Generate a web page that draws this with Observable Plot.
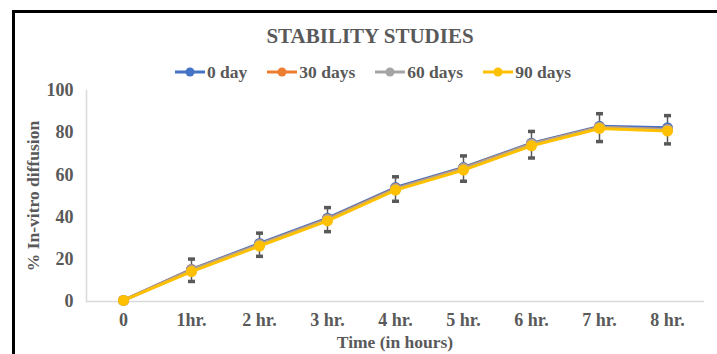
<!DOCTYPE html>
<html>
<head>
<meta charset="utf-8">
<script src="https://cdn.jsdelivr.net/npm/d3@7"></script>
<script src="https://cdn.jsdelivr.net/npm/@observablehq/plot@0.6"></script>
<style>
  body { margin: 0; background: #fff; }
  #wrap { position: relative; width: 717px; height: 354px; overflow: hidden; background: #fff;
    font-family: "Liberation Serif", "Times New Roman", serif; font-weight: bold; color: #595959; }
  #bleft { position: absolute; left: 12px; top: 10px; width: 3px; height: 344px; background: #000; z-index: 2; }
  #btop { position: absolute; left: 12px; top: 10px; width: 705px; height: 3px; background: #000; z-index: 2; }
  #title { position: absolute; left: 0; top: 24px; width: 740px; text-align: center; font-size: 21px; line-height: 24px; z-index: 2; }
  #legend { position: absolute; left: 0; top: 62px; width: 746px; display: flex; justify-content: center; gap: 20px; font-size: 17.5px; line-height: 20px; z-index: 2; }
  .item { display: flex; align-items: center; gap: 2px; }
  #chart { position: absolute; left: 0; top: 0; z-index: 1; }
</style>
</head>
<body>
<div id="wrap">
  <div id="chart"></div>
  <div id="bleft"></div>
  <div id="btop"></div>
  <div id="title">STABILITY STUDIES</div>
  <div id="legend"></div>
</div>
<script>
const hours = ["0", "1hr.", "2 hr.", "3 hr.", "4 hr.", "5 hr.", "6 hr.", "7 hr.", "8 hr."];
const day0  = [0.5, 15.2, 27.5, 39.5, 54.0, 63.5, 75.0, 83.0, 82.3];
const day30 = [0.5, 15.0, 27.0, 39.0, 53.5, 63.2, 74.7, 82.6, 81.5];
const day60 = [0.5, 14.8, 26.9, 38.8, 53.3, 63.0, 74.5, 82.5, 81.4];
const day90 = [0.5, 14.2, 26.3, 38.2, 52.8, 62.3, 73.8, 82.0, 80.8];
const errCenter = [null, 14.8, 26.9, 38.8, 53.3, 63.0, 74.3, 82.4, 81.4];
const errHalf   = [null, 5.3, 5.5, 5.7, 5.8, 6.0, 6.3, 6.6, 6.7];

const seriesNames = ["0 day", "30 days", "60 days", "90 days"];
const seriesValues = [day0, day30, day60, day90];
const colors = ["#4472C4", "#ED7D31", "#A5A5A5", "#FFC000"];

const rows = [];
seriesNames.forEach((s, i) => hours.forEach((h, j) => rows.push({series: s, t: h, v: seriesValues[i][j]})));
const errs = hours.map((h, j) => ({t: h, lo: errCenter[j] == null ? null : errCenter[j] - errHalf[j], hi: errCenter[j] == null ? null : errCenter[j] + errHalf[j]})).filter(d => d.lo != null);

// legend
const leg = document.getElementById("legend");
seriesNames.forEach((s, i) => {
  const it = document.createElement("div");
  it.className = "item";
  it.innerHTML = `<svg width="30" height="12"><line x1="0" y1="6" x2="30" y2="6" stroke="${colors[i]}" stroke-width="3"/><circle cx="15" cy="6" r="4.5" fill="${colors[i]}"/></svg><span>${s}</span>`;
  leg.appendChild(it);
});

const capSymbol = {draw(ctx) { ctx.rect(-3.5, -1.75, 7, 3.5); }};

const marks = [
  Plot.frame({anchor: "left", stroke: "#D9D9D9", strokeWidth: 1.5}),
  Plot.frame({anchor: "bottom", stroke: "#D9D9D9", strokeWidth: 1.5}),
  Plot.axisY({ticks: [0, 20, 40, 60, 80, 100], tickSize: 0, tickPadding: 13, label: null, fontSize: 18}),
  Plot.axisX({tickSize: 0, tickPadding: 12, label: null, fontSize: 18}),
  Plot.text(["% In-vitro diffusion"], {frameAnchor: "left", textAnchor: "middle", rotate: -90, dx: -53, fontSize: 17.5, fontWeight: "bold", fill: "#595959"}),
  Plot.text(["Time (in hours)"], {frameAnchor: "bottom", dy: 46, fontSize: 17.5, fontWeight: "bold", fill: "#595959"}),
  Plot.ruleX(errs, {x: "t", y1: "lo", y2: "hi", stroke: "#595959", strokeWidth: 1.5}),
  Plot.dot(errs, {x: "t", y: "hi", symbol: capSymbol, fill: "#595959", stroke: null}),
  Plot.dot(errs, {x: "t", y: "lo", symbol: capSymbol, fill: "#595959", stroke: null})
];
seriesNames.forEach((s, i) => {
  const d = rows.filter(r => r.series === s);
  marks.push(Plot.line(d, {x: "t", y: "v", stroke: colors[i], strokeWidth: 3}));
  marks.push(Plot.dot(d, {x: "t", y: "v", fill: colors[i], r: 5.5}));
});

const chart = Plot.plot({
  width: 717,
  height: 354,
  marginTop: 90,
  marginBottom: 53,
  marginLeft: 86,
  marginRight: 14,
  style: {fontFamily: "'Liberation Serif', 'Times New Roman', serif", fontSize: "18px", fontWeight: "bold", color: "#595959", background: "transparent"},
  x: {type: "point", domain: hours, padding: 0.5},
  y: {domain: [0, 100]},
  marks
});
document.getElementById("chart").appendChild(chart);
</script>
</body>
</html>
